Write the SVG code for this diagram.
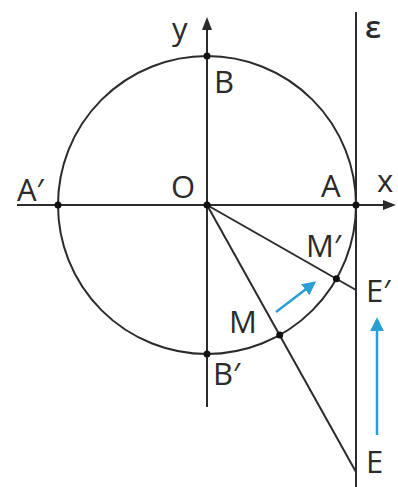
<svg xmlns="http://www.w3.org/2000/svg" width="398" height="487" viewBox="0 0 398 487">
<defs>
<style>
.ln{stroke:#2b2b2b;stroke-width:2;fill:none}
.bl{stroke:#2a9fd6;stroke-width:2.5;fill:none}
.lb{font-family:"Open Sans","DejaVu Sans",sans-serif;font-size:31px;fill:#2b2b2b}
.pt{fill:#111}
.ah{fill:#2b2b2b}
</style>
<marker id="ba" viewBox="0 0 10 10" refX="8" refY="5" markerWidth="5.5" markerHeight="5.5" orient="auto"><path d="M0,0 L10,5 L0,10 z" fill="#2a9fd6"/></marker>
</defs>
<g id="connectors">
<line class="ln" x1="17" y1="205" x2="390" y2="205"/>
<path class="ah" d="M396,205 L383,200 L383,210 z"/>
<line class="ln" x1="207" y1="407" x2="207" y2="24"/>
<path class="ah" d="M207,17 L202,30 L212,30 z"/>
<line class="ln" x1="356" y1="12" x2="356" y2="487"/>
<circle class="ln" cx="207" cy="205" r="149"/>
<line class="ln" x1="207" y1="205" x2="356" y2="290"/>
<line class="ln" x1="207" y1="205" x2="356" y2="472"/>
<line class="bl" x1="276" y1="312" x2="314" y2="283" marker-end="url(#ba)"/>
<line class="bl" x1="377" y1="435" x2="377" y2="320" marker-end="url(#ba)"/>
</g>
<g id="O"><circle class="pt" cx="207" cy="205" r="3.5"/><text class="lb" x="171" y="198">O</text></g>
<g id="A"><circle class="pt" cx="356" cy="205" r="3.5"/><text class="lb" x="321" y="197">A</text></g>
<g id="A1"><circle class="pt" cx="58" cy="205" r="3.5"/><text class="lb" x="17" y="201">A′</text></g>
<g id="B"><circle class="pt" cx="207" cy="56" r="3.5"/><text class="lb" x="214" y="93">B</text></g>
<g id="B1"><circle class="pt" cx="207" cy="354" r="3.5"/><text class="lb" x="213" y="385">B′</text></g>
<g id="M"><circle class="pt" cx="279.7" cy="335.1" r="3.5"/><text class="lb" x="229" y="333">M</text></g>
<g id="M1"><circle class="pt" cx="336.4" cy="278.8" r="3.5"/><text class="lb" x="306" y="257">M′</text></g>
<g id="E1"><text class="lb" x="366" y="302">E′</text></g>
<g id="E"><text class="lb" x="366" y="473">E</text></g>
<g id="axes-labels"><text class="lb" x="172" y="40">y</text><text class="lb" x="377" y="192">x</text><text class="lb" x="365" y="38" style="font-weight:600">ε</text></g>
</svg>
